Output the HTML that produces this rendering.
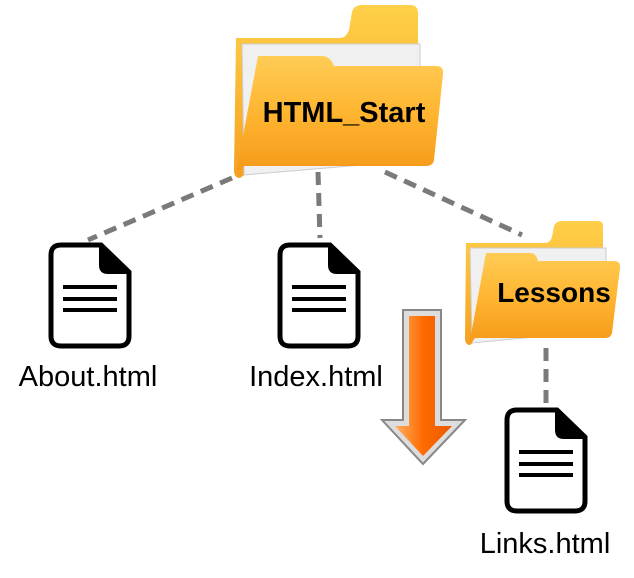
<!DOCTYPE html><html><head><style>body{margin:0;background:#fff}svg{display:block}text{font-family:"Liberation Sans",sans-serif}</style></head><body>
<svg width="634" height="578" viewBox="0 0 634 578">
<defs>
<linearGradient id="fb" x1="0" y1="0" x2="0" y2="1"><stop offset="0" stop-color="#ffd04a"/><stop offset="1" stop-color="#f5a020"/></linearGradient>
<linearGradient id="ff" x1="0" y1="0" x2="0" y2="1"><stop offset="0" stop-color="#ffcc55"/><stop offset="0.5" stop-color="#ffb530"/><stop offset="1" stop-color="#f59a1a"/></linearGradient>
<linearGradient id="ar" x1="0" y1="0" x2="1" y2="0"><stop offset="0" stop-color="#ffb060"/><stop offset="0.5" stop-color="#ff6a00"/><stop offset="1" stop-color="#e85a00"/></linearGradient>
<g id="doc"><path d="M10,0 H50 L78,27 V91 Q78,101 68,101 H10 Q0,101 0,91 V10 Q0,0 10,0 Z" fill="#fff" stroke="#000" stroke-width="5"/><path d="M50,0 V20 Q50,27 57,27 H78 Z" fill="#000" stroke="#000" stroke-width="4" stroke-linejoin="round"/><path d="M12,42 H66 M12,54 H66 M12,65 H66" stroke="#000" stroke-width="4"/></g>
</defs>
<g stroke="#7a7a7a" stroke-width="5" stroke-dasharray="13 8" fill="none">
<path d="M232,178 L88,240"/><path d="M318,172 L320,238"/><path d="M385,172 L522,235"/><path d="M546,348 L546,405"/>
</g>
<path d="M236,38 H340 Q346,38 349,30 L352,12 Q354,5 362,5 H410 Q418,5 418,13 V50 L240,178 Q234,178 234,170 Z" fill="url(#fb)"/>
<path d="M242,44 H420 V160 L244,175 Z" fill="#f0f0f0" stroke="#ccc" stroke-width="1"/>
<path d="M258,56 H322 Q328,56 332,62 L334,66 H436 Q444,66 443,74 L434,160 Q433,166 426,166 H244 Q237,176 237,168 Z" fill="url(#ff)"/>
<text x="344" y="122" font-size="29" font-weight="bold" text-anchor="middle">HTML_Start</text>
<path d="M466,243 H545 Q550,243 552,237 L554,226 Q556,221 562,221 H598 Q603,221 603,226 V260 L470,345 Q465,345 465,338 Z" fill="url(#fb)"/>
<path d="M470,248 H606 V330 L472,343 Z" fill="#f0f0f0" stroke="#ccc" stroke-width="1"/>
<path d="M486,253 H530 Q535,253 537,258 L538,261 H614 Q621,261 620,268 L612,333 Q611,338 605,338 H475 Q469,347 470,340 Z" fill="url(#ff)"/>
<text x="554" y="302" font-size="28" font-weight="bold" text-anchor="middle">Lessons</text>
<path d="M403,310 H441 V420 H465 L423,464 L382,420 H403 Z" fill="#ddd" stroke="#888" stroke-width="2"/>
<path d="M409,316 H435 V426 H452 L423,456 L395,426 H409 Z" fill="url(#ar)"/>
<use href="#doc" x="51" y="245"/>
<use href="#doc" x="280" y="245"/>
<use href="#doc" x="507" y="410"/>
<g font-size="29" text-anchor="middle">
<text x="88" y="386">About.html</text>
<text x="316" y="386">Index.html</text>
<text x="545" y="553">Links.html</text>
</g>
</svg>
</body></html>
